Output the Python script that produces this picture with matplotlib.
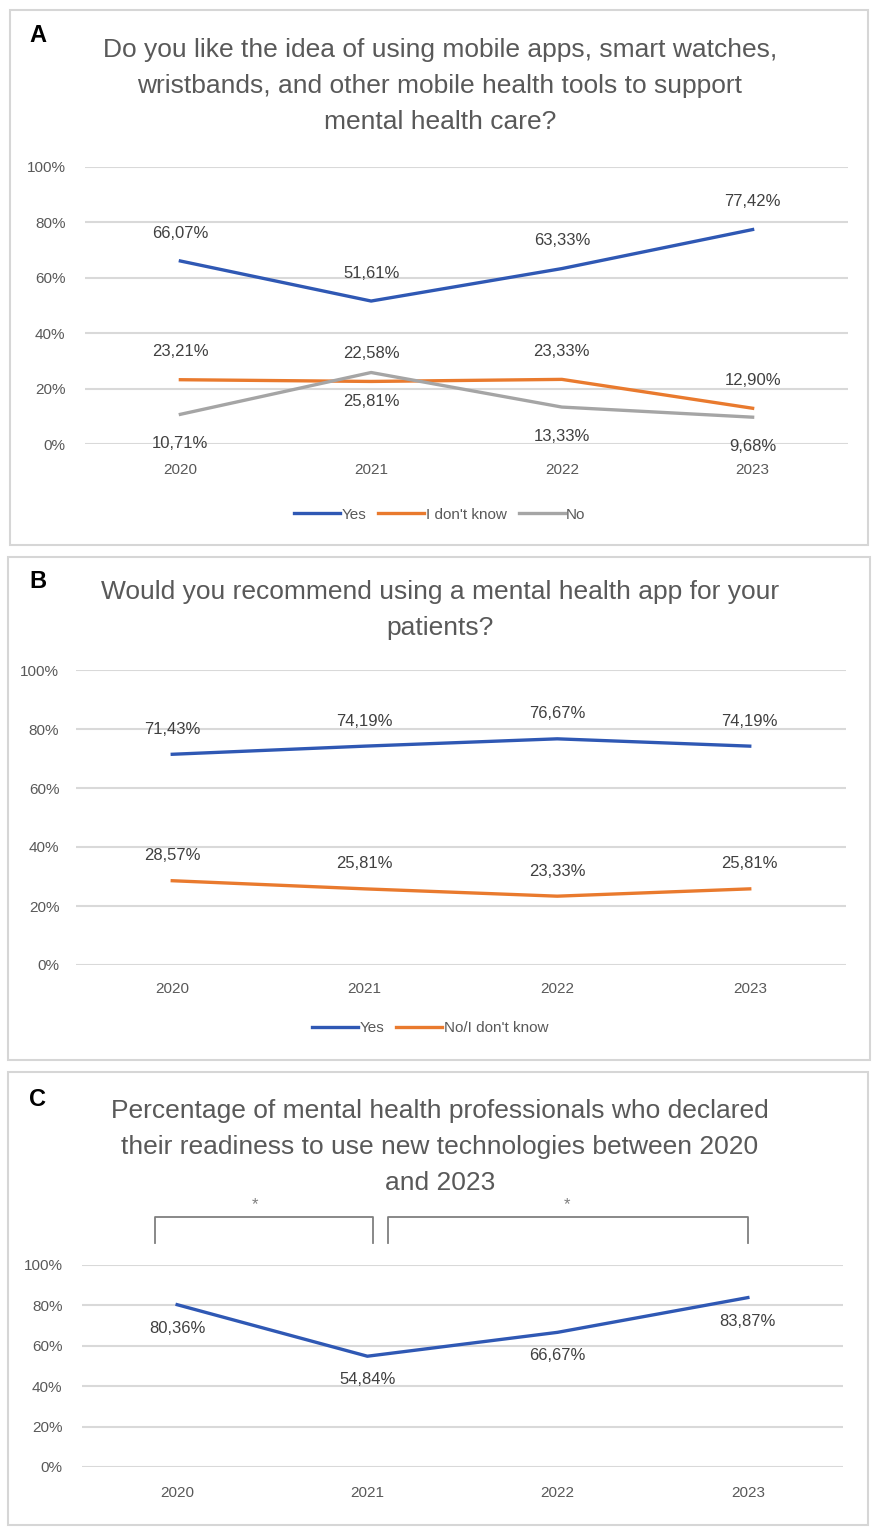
import matplotlib
matplotlib.use("Agg")
import matplotlib.pyplot as plt
from matplotlib.patches import Rectangle
from matplotlib.ticker import FuncFormatter

plt.rcParams['font.family'] = ['Liberation Sans', 'DejaVu Sans']

years = ["2020", "2021", "2022", "2023"]

# Panel A
a_title = "Do you like the idea of using mobile apps, smart watches,\nwristbands, and other mobile health tools to support\nmental health care?"
a_yes = [66.07, 51.61, 63.33, 77.42]
a_dk = [23.21, 22.58, 23.33, 12.90]
a_no = [10.71, 25.81, 13.33, 9.68]

# Panel B
b_title = "Would you recommend using a mental health app for your\npatients?"
b_yes = [71.43, 74.19, 76.67, 74.19]
b_nodk = [28.57, 25.81, 23.33, 25.81]

# Panel C
c_title = "Percentage of mental health professionals who declared\ntheir readiness to use new technologies between 2020\nand 2023"
c_ready = [80.36, 54.84, 66.67, 83.87]

yticks = [0, 20, 40, 60, 80, 100]

BLUE = "#2F58B4"
ORANGE = "#E97A2E"
GRAY = "#A5A5A5"
TXT = "#595959"
LBL = "#404040"
GRID = "#D9D9D9"

W, H = 886, 1539
fig = plt.figure(figsize=(W / 100, H / 100), dpi=100)
fig.patch.set_facecolor("white")


def rect(l, t, r, b):
    return [l / W, 1 - b / H, (r - l) / W, (b - t) / H]


def frame(l, t, r, b):
    fig.patches.append(Rectangle((l / W, 1 - b / H), (r - l) / W, (b - t) / H,
                                 transform=fig.transFigure, fill=False,
                                 edgecolor="#D6D6D6", linewidth=1.5))


def setup(ax, xpad, ypad):
    ax.set_xlim(-0.5, 3.5)
    ax.set_ylim(0, 100)
    ax.set_yticks(yticks)
    ax.yaxis.set_major_formatter(FuncFormatter(lambda v, p: f"{int(v)}%"))
    ax.set_xticks(range(len(years)))
    ax.set_xticklabels(years)
    ax.grid(axis="y", color=GRID, linewidth=1.5)
    ax.set_axisbelow(True)
    for s in ax.spines.values():
        s.set_visible(False)
    ax.tick_params(axis="both", length=0, colors=TXT, labelsize=11)
    ax.tick_params(axis="x", pad=xpad)
    ax.tick_params(axis="y", pad=ypad)


def labels(ax, vals, dy, va):
    for i, v in enumerate(vals):
        ax.annotate(f"{v:.2f}".replace(".", ",") + "%", (i, v), xytext=(0, dy),
                    textcoords="offset points", ha="center", va=va,
                    fontsize=12, color=LBL, annotation_clip=False)


def title(y, txt):
    fig.text(440 / W, 1 - y / H, txt, fontsize=19, color=TXT, ha="center",
             va="center", linespacing=1.65)


def letter(y, s):
    fig.text(38 / W, 1 - y / H, s, fontsize=17, fontweight="bold",
             ha="center", va="center", color="black")


# ---------- Panel A ----------
frame(10, 10, 868, 545)
letter(36, "A")
title(86, a_title)
axA = fig.add_axes(rect(85, 167, 848, 444))
setup(axA, 14, 14)
lY, = axA.plot(range(4), a_yes, color=BLUE, lw=2.4, label="Yes", clip_on=False)
lD, = axA.plot(range(4), a_dk, color=ORANGE, lw=2.4, label="I don't know", clip_on=False)
lN, = axA.plot(range(4), a_no, color=GRAY, lw=2.4, label="No", clip_on=False)
labels(axA, a_yes, 20, "center")
labels(axA, a_dk, 20, "center")
labels(axA, a_no, -21, "center")
axA.legend(handles=[lY, lD, lN], loc="center", bbox_to_anchor=(0.465, -0.255),
           ncol=3, frameon=False, fontsize=11, handlelength=3.0,
           handletextpad=0.1, columnspacing=0.8, labelcolor=TXT)

# ---------- Panel B ----------
frame(8, 557, 870, 1060)
letter(582, "B")
title(610, b_title)
axB = fig.add_axes(rect(76, 670, 846, 965))
setup(axB, 12, 12)
bY, = axB.plot(range(4), b_yes, color=BLUE, lw=2.4, label="Yes", clip_on=False)
bN, = axB.plot(range(4), b_nodk, color=ORANGE, lw=2.4, label="No/I don't know", clip_on=False)
labels(axB, b_yes, 18, "center")
labels(axB, b_nodk, 18, "center")
axB.legend(handles=[bY, bN], loc="center", bbox_to_anchor=(0.46, -0.215),
           ncol=2, frameon=False, fontsize=11, handlelength=3.0,
           handletextpad=0.1, columnspacing=0.8, labelcolor=TXT)

# ---------- Panel C ----------
frame(8, 1072, 868, 1525)
letter(1100, "C")
title(1147, c_title)
axC = fig.add_axes(rect(82, 1265, 843, 1467))
setup(axC, 14, 14)
axC.plot(range(4), c_ready, color=BLUE, lw=2.4, clip_on=False)
labels(axC, c_ready, -17, "center")

# significance brackets (2020 vs 2021, 2021 vs 2023)
for x0, x1, sx in [(-0.115, 1.03, 0.41), (1.11, 3.0, 2.05)]:
    axC.plot([x0, x0, x1, x1], [111, 124, 124, 111], color="#7F7F7F", lw=1.3,
             clip_on=False)
    axC.text(sx, 130, "*", ha="center", va="center",
             fontsize=12, color="#7F7F7F")

fig.savefig("out.png", dpi=100, facecolor="white")
